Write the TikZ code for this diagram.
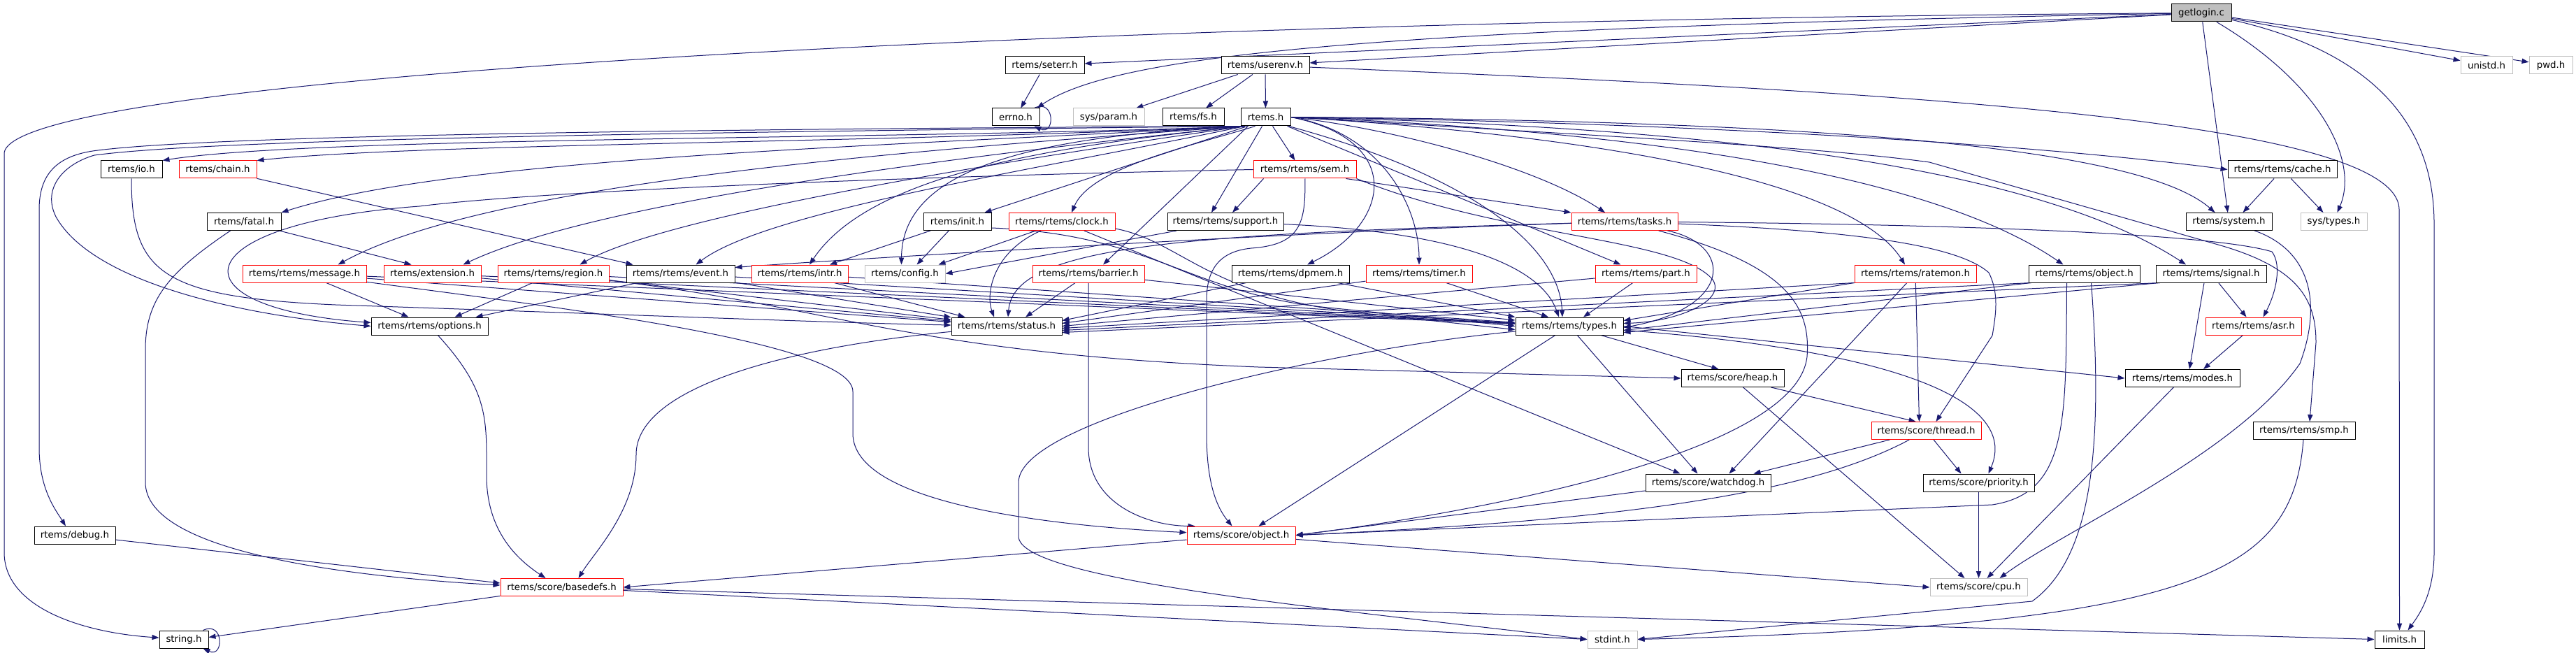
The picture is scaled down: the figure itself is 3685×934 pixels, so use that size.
\documentclass[tikz,border=0pt]{standalone}
\usepackage{fontspec}
\setmainfont{DejaVu Sans}
\usetikzlibrary{arrows.meta,calc,backgrounds}
\definecolor{edgec}{HTML}{191970}
\definecolor{grayc}{HTML}{BFBFBF}
\definecolor{redc}{HTML}{FF0000}
\begin{document}
\begin{tikzpicture}[x=0.75pt,y=-0.75pt,
  nd/.style={rectangle, fill=white, inner sep=0pt, minimum height=18.75pt, font=\fontsize{10}{12}\selectfont, line width=0.75pt},
  bk/.style={nd, draw=black},
  rd/.style={nd, draw=redc},
  gy/.style={nd, draw=grayc},
  e/.style={draw=edgec, line width=0.75pt, -{Triangle[length=7.5pt,width=5.4pt]}},
]
\useasboundingbox (0,0) rectangle (3685,934);
% row 0
\node[bk, fill=grayc, minimum width=86*0.75pt] (getlogin) at (3149,18.5) {getlogin.c};
% row 1
\node[bk, minimum width=113*0.75pt] (seterr) at (1494.5,93.5) {rtems/seterr.h};
\node[bk, minimum width=126*0.75pt] (userenv) at (1810,93.5) {rtems/userenv.h};
\node[gy, minimum width=74*0.75pt] (unistd) at (3557,93.5) {unistd.h};
\node[gy, minimum width=62*0.75pt] (pwd) at (3649,93.5) {pwd.h};
% row 2
\node[bk, minimum width=68*0.75pt] (errno) at (1453,167.5) {errno.h};
\node[gy, minimum width=102*0.75pt] (sysparam) at (1586,167.5) {sys/param.h};
\node[bk, minimum width=88*0.75pt] (fs) at (1707,167.5) {rtems/fs.h};
\node[bk, minimum width=71*0.75pt] (rtemsh) at (1810.5,167.5) {rtems.h};
% row 3
\node[bk, minimum width=88*0.75pt] (io) at (188,242.5) {rtems/io.h};
\node[rd, minimum width=111*0.75pt] (chain) at (311.5,242.5) {rtems/chain.h};
\node[rd, minimum width=147*0.75pt] (sem) at (1866.5,242.5) {rtems/rtems/sem.h};
\node[bk, minimum width=156*0.75pt] (cache) at (3265,242.5) {rtems/rtems/cache.h};
% row 4
\node[bk, minimum width=106*0.75pt] (fatal) at (349,317) {rtems/fatal.h};
\node[bk, minimum width=97*0.75pt] (init) at (1369.5,317) {rtems/init.h};
\node[rd, minimum width=152*0.75pt] (clock) at (1519,317) {rtems/rtems/clock.h};
\node[bk, minimum width=166*0.75pt] (support) at (1753,317) {rtems/rtems/support.h};
\node[rd, minimum width=152*0.75pt] (tasks) at (2324,317) {rtems/rtems/tasks.h};
\node[bk, minimum width=123*0.75pt] (system) at (3188.5,317) {rtems/system.h};
\node[gy, minimum width=95*0.75pt] (systypes) at (3338.5,317) {sys/types.h};
% row 5
\node[rd, minimum width=177*0.75pt] (message) at (435.5,391.5) {rtems/rtems/message.h};
\node[rd, minimum width=139*0.75pt] (extension) at (618.5,391.5) {rtems/extension.h};
\node[rd, minimum width=159*0.75pt] (region) at (791.5,391.5) {rtems/rtems/region.h};
\node[bk, minimum width=155*0.75pt] (event) at (973.5,391.5) {rtems/rtems/event.h};
\node[rd, minimum width=138*0.75pt] (intr) at (1144,391.5) {rtems/rtems/intr.h};
\node[gy, minimum width=115*0.75pt] (config) at (1294.5,391.5) {rtems/config.h};
\node[rd, minimum width=160*0.75pt] (barrier) at (1557,391.5) {rtems/rtems/barrier.h};
\node[bk, minimum width=168*0.75pt] (dpmem) at (1846,391.5) {rtems/rtems/dpmem.h};
\node[rd, minimum width=152*0.75pt] (timer) at (2030,391.5) {rtems/rtems/timer.h};
\node[rd, minimum width=145*0.75pt] (part) at (2354.5,391.5) {rtems/rtems/part.h};
\node[rd, minimum width=174*0.75pt] (ratemon) at (2740,391.5) {rtems/rtems/ratemon.h};
\node[bk, minimum width=159*0.75pt] (objecth) at (2981.5,391.5) {rtems/rtems/object.h};
\node[bk, minimum width=158*0.75pt] (signal) at (3163,391.5) {rtems/rtems/signal.h};
% row 6
\node[bk, minimum width=167*0.75pt] (options) at (614.5,466.5) {rtems/rtems/options.h};
\node[bk, minimum width=158*0.75pt] (status) at (1440,466.5) {rtems/rtems/status.h};
\node[bk, minimum width=154*0.75pt] (types) at (2245,466.5) {rtems/rtems/types.h};
\node[rd, minimum width=137*0.75pt] (asr) at (3223.5,466.5) {rtems/rtems/asr.h};
% row 7
\node[bk, minimum width=147*0.75pt] (heap) at (2478.5,541) {rtems/score/heap.h};
\node[bk, minimum width=164*0.75pt] (modes) at (3122,541) {rtems/rtems/modes.h};
% row 8
\node[rd, minimum width=157*0.75pt] (thread) at (2755.5,616) {rtems/score/thread.h};
\node[bk, minimum width=146*0.75pt] (smp) at (3296,616) {rtems/rtems/smp.h};
% row 9
\node[bk, minimum width=179*0.75pt] (watchdog) at (2443.5,690.5) {rtems/score/watchdog.h};
\node[bk, minimum width=159*0.75pt] (priority) at (2830.5,690.5) {rtems/score/priority.h};
% row 10
\node[bk, minimum width=116*0.75pt] (debug) at (107,765.5) {rtems/debug.h};
\node[rd, minimum width=155*0.75pt] (sobject) at (1775.5,765.5) {rtems/score/object.h};
% row 11
\node[rd, minimum width=175*0.75pt] (basedefs) at (803.5,840) {rtems/score/basedefs.h};
\node[gy, minimum width=139*0.75pt] (cpu) at (2830.5,840) {rtems/score/cpu.h};
% row 12
\node[bk, minimum width=70*0.75pt] (string) at (263,914.5) {string.h};
\node[gy, minimum width=71*0.75pt] (stdint) at (2306.5,914.5) {stdint.h};
\node[bk, minimum width=71*0.75pt] (limits) at (3432.5,914.5) {limits.h};

\begin{scope}[on background layer]
\fill[white] (0,0) rectangle (3685,934);
% getlogin.c
\draw[e] (getlogin) -- (seterr);
\draw[e] (getlogin) -- (userenv);
\draw[e] (getlogin) .. controls (2000,40) and (1600,75) .. ($(errno.north east)+(-4,0)$);
\draw[e] (getlogin) .. controls (1500,30) and (6,110) .. (6,220) -- (6,790) .. controls (6,870) and (120,905) .. (string);
\draw[e] (getlogin) -- (system);
\draw[e] (getlogin) .. controls (3320,120) and (3375,230) .. ($(systypes.north)+(5,0)$);
\draw[e] (getlogin) -- (unistd);
\draw[e] (getlogin) -- (pwd);
\draw[e] (getlogin) .. controls (3420,80) and (3482,200) .. (3482,320) -- (3482,790) .. controls (3482,850) and (3460,880) .. ($(limits.north)+(12,0)$);
% seterr, errno, userenv
\draw[e] (seterr) -- (errno);
\draw[e] ($(errno.north east)+(-8,0)$) .. controls +(30,-14) and +(30,14) .. ($(errno.south east)+(-8,0)$);
\draw[e] (userenv) -- (sysparam);
\draw[e] (userenv) -- (fs);
\draw[e] (userenv) -- (rtemsh);
\draw[e] (userenv) .. controls (2700,130) and (3432,170) .. (3432,300) -- (limits);
% rtems.h
\draw[e] ($(rtemsh.south west)+(6,0)$) .. controls (1300,200) and (450,195) .. (io.north east);
\draw[e] ($(rtemsh.south west)+(6,0)$) .. controls (1250,205) and (600,205) .. (chain.north east);
\draw[e] ($(rtemsh.south west)+(6,0)$) .. controls (1250,210) and (650,225) .. (fatal.north east);
\draw[e] ($(rtemsh.south west)+(6,0)$) .. controls (1300,215) and (700,260) .. ($(message.north)+(48,0)$);
\draw[e] ($(rtemsh.south west)+(6,0)$) .. controls (1350,225) and (850,290) .. ($(extension.north)+(44,0)$);
\draw[e] ($(rtemsh.south west)+(6,0)$) .. controls (1400,235) and (950,310) .. ($(region.north)+(38,0)$);
\draw[e] ($(rtemsh.south west)+(6,0)$) .. controls (1500,240) and (1100,300) .. ($(event.north)+(22,0)$);
\draw[e] ($(rtemsh.south west)+(6,0)$) .. controls (1550,205) and (1250,240) .. ($(intr.north)+(14,0)$);
\draw[e] ($(rtemsh.south west)+(6,0)$) .. controls (1450,195) and (1290,250) .. ($(config.north)+(-5,0)$);
\draw[e] ($(rtemsh.south west)+(10,0)$) -- ($(init.north east)+(-10,0)$);
\draw[e] ($(rtemsh.south)+(-15,0)$) .. controls (1700,210) and (1560,240) .. ($(clock.north)+(14,0)$);
\draw[e] ($(rtemsh.south)+(-5,0)$) -- ($(support.north)+(-20,0)$);
\draw[e] ($(rtemsh.south)+(10,0)$) -- ($(sem.north)+(-14,0)$);
\draw[e] ($(rtemsh.south)+(-25,0)$) -- ($(barrier.north)+(21,0)$);
\draw[e] (rtemsh.east) .. controls (2010,200) and (1990,320) .. ($(dpmem.north)+(24,0)$);
\draw[e] (rtemsh.east) .. controls (1980,190) and (2030,300) .. (timer.north);
\draw[e] (rtemsh.east) .. controls (2000,185) and (2200,240) .. ($(tasks.north)+(-28,0)$);
\draw[e] ($(rtemsh.south east)+(-5,0)$) -- ($(part.north)+(-36,0)$);
\draw[e] (rtemsh.east) .. controls (2300,195) and (2650,260) .. ($(ratemon.north)+(-15,0)$);
\draw[e] (rtemsh.east) .. controls (2300,185) and (2750,240) .. ($(objecth.north)+(-30,0)$);
\draw[e] (rtemsh.east) .. controls (2400,180) and (2900,230) .. ($(signal.north)+(-36,0)$);
\draw[e] (rtemsh.east) .. controls (2400,175) and (2900,205) .. (cache.west);
\draw[e] (rtemsh.east) .. controls (2500,172) and (3050,200) .. ($(system.north)+(-20,0)$);
\draw[e] ($(rtemsh.south east)+(-3,0)$) .. controls (2100,250) and (2230,350) .. ($(types.north)+(-10,0)$);
\draw[e] ($(rtemsh.south west)+(2,0)$) .. controls (900,185) and (300,195) .. (140,215) .. controls (80,222) and (56,250) .. (56,300) -- (56,640) .. controls (56,700) and (80,730) .. ($(debug.north)+(-13,0)$);
\draw[e] ($(rtemsh.south west)+(3,0)$) .. controls (900,190) and (300,200) .. (135,222) .. controls (90,235) and (60,270) .. (80,310) .. controls (130,400) and (330,450) .. (options.west);
\draw[e] (rtemsh.east) .. controls (2300,195) and (2600,210) .. (2760,232) -- (3180,352) .. controls (3290,385) and (3313,430) .. (3313,490) -- ($(smp.north)+(8,0)$);
% row 3 sources
\draw[e] (io) .. controls (188,390) and (230,425) .. (480,436) .. controls (900,450) and (1200,462) .. (status);
\draw[e] (chain) -- ($(event.north west)+(10,0)$);
\draw[e] (sem.west) .. controls (1400,250) and (800,270) .. (600,295) .. controls (260,320) and (240,440) .. ($(options.west)+(0,-5)$);
\draw[e] ($(sem.south west)+(15,0)$) -- ($(support.north)+(10,0)$);
\draw[e] ($(sem.south east)+(-15,0)$) -- (tasks.north west);
\draw[e] (sem) .. controls (1868,320) and (1860,350) .. (1790,355) .. controls (1740,360) and (1726,390) .. (1726,430) -- (1726,620) .. controls (1726,690) and (1740,725) .. ($(sobject.north)+(-13,0)$);
\draw[e] (sem.south east) .. controls (2150,340) and (2400,340) .. (2450,400) .. controls (2470,430) and (2400,460) .. ($(types.east)+(0,-4)$);
\draw[e] (cache) -- ($(system.north)+(20,0)$);
\draw[e] (cache) -- ($(systypes.north)+(-15,0)$);
% row 4 sources
\draw[e] (fatal) -- ($(extension.north)+(-30,0)$);
\draw[e] (fatal) .. controls (240,390) and (208,430) .. (208,500) -- (208,690) .. controls (208,790) and (500,825) .. ($(basedefs.west)+(0,-3)$);
\draw[e] (init) -- ($(intr.north)+(43,0)$);
\draw[e] (init) -- ($(config.north)+(17,0)$);
\draw[e] ($(init.south east)+(0,-4)$) .. controls (1650,335) and (1700,420) .. (1900,440) -- (types.west);
\draw[e] (clock) -- ($(config.north east)+(-10,0)$);
\draw[e] (clock) .. controls (1420,360) and (1410,420) .. ($(status.north)+(-18,0)$);
\draw[e] ($(clock.south east)+(0,-3)$) .. controls (1690,345) and (1730,425) .. (1950,448) -- ($(types.west)+(0,5)$);
\draw[e] (clock) -- ($(watchdog.north)+(-40,0)$);
\draw[e] (support) -- (config.east);
\draw[e] (support) .. controls (2050,330) and (2200,370) .. ($(types.north)+(-15,0)$);
\draw[e] (tasks) .. controls (1900,330) and (1250,368) .. ($(event.north east)+(0,4)$);
\draw[e] (tasks) .. controls (1700,335) and (1450,350) .. ($(status.north)+(2,0)$);
\draw[e] (tasks) .. controls (2480,350) and (2480,440) .. ($(types.east)+(0,2)$);
\draw[e] (tasks) .. controls (2700,320) and (3150,330) .. (3250,360) .. controls (3265,380) and (3255,420) .. ($(asr.north)+(14,0)$);
\draw[e] (tasks) .. controls (2650,330) and (2800,350) .. (2845,390) .. controls (2860,420) and (2855,450) .. (2850,480) -- ($(thread.north)+(14,0)$);
\draw[e] (tasks) .. controls (2560,380) and (2590,440) .. (2585,510) .. controls (2570,650) and (2100,735) .. (sobject.east);
\draw[e] (system) .. controls (3310,360) and (3320,440) .. (3290,520) .. controls (3200,650) and (2950,760) .. ($(cpu.north)+(30,0)$);
% row 5 sources
\draw[e] (message) -- ($(options.north)+(-30,0)$);
\draw[e] (message) -- (status);
\draw[e] (message) -- (types);
\draw[e] (message) .. controls (800,440) and (1220,490) .. (1220,560) -- (1220,620) .. controls (1220,720) and (1500,752) .. (sobject);
\draw[e] (extension) -- (status);
\draw[e] (extension) -- (types);
\draw[e] (region) -- ($(options.north)+(36,0)$);
\draw[e] (region) -- (status);
\draw[e] (region) -- (types);
\draw[e] (region) .. controls (1200,440) and (1300,505) .. (1800,525) -- (heap.west);
\draw[e] (event) -- ($(options.north east)+(-18,0)$);
\draw[e] (event) -- (status);
\draw[e] (event) -- (types);
\draw[e] (intr) -- ($(status.north west)+(20,0)$);
\draw[e] (intr) -- (types);
\draw[e] (barrier) -- ($(status.north)+(27,0)$);
\draw[e] (barrier) -- (types);
\draw[e] (barrier.south) -- (1557,640) .. controls (1557,720) and (1640,752) .. ($(sobject.north west)+(12,0)$);
\draw[e] (dpmem) -- ($(status.east)+(0,-8)$);
\draw[e] (dpmem) -- (types.north west);
\draw[e] (timer) -- ($(status.east)+(0,-4)$);
\draw[e] (timer) -- ($(types.north)+(-30,0)$);
\draw[e] (part) -- (status.east);
\draw[e] (part) -- ($(types.north)+(20,0)$);
\draw[e] (ratemon.south west) -- ($(status.east)+(0,3)$);
\draw[e] (ratemon.south west) -- ($(types.east)+(0,-8)$);
\draw[e] (ratemon) -- ($(watchdog.north)+(30,0)$);
\draw[e] (ratemon) -- ($(thread.north)+(-10,0)$);
\draw[e] ($(objecth.south west)+(4,0)$) -- ($(status.east)+(0,6)$);
\draw[e] ($(objecth.south west)+(4,0)$) -- ($(types.east)+(0,6)$);
\draw[e] ($(objecth.south)+(-25,0)$) .. controls (2955,600) and (2960,705) .. (2850,722) -- (sobject.east);
\draw[e] ($(objecth.south)+(10,0)$) .. controls (3010,650) and (2990,800) .. (2907,860) -- (stdint.east);
\draw[e] ($(signal.south west)+(6,0)$) -- ($(status.east)+(0,9)$);
\draw[e] ($(signal.south west)+(6,0)$) -- ($(types.east)+(0,9)$);
\draw[e] (signal) -- ($(asr.north)+(-10,0)$);
\draw[e] ($(signal.south)+(-10,0)$) -- ($(modes.north)+(10,0)$);
% row 6 sources
\draw[e] (options) .. controls (700,560) and (696,600) .. (696,680) .. controls (696,760) and (740,800) .. ($(basedefs.north)+(-23,0)$);
\draw[e] (status) .. controls (1100,500) and (910,560) .. (910,650) .. controls (910,730) and (850,790) .. ($(basedefs.north)+(24,0)$);
\draw[e] (types) -- ($(heap.north)+(-20,0)$);
\draw[e] (types) -- ($(watchdog.north)+(-15,0)$);
\draw[e] (types) -- ($(sobject.north)+(25,0)$);
\draw[e] (types.east) -- (modes.west);
\draw[e] (types) .. controls (2700,500) and (2890,570) .. ($(priority.north)+(14,0)$);
\draw[e] (types) .. controls (1900,500) and (1457,600) .. (1457,690) -- (1457,767) .. controls (1457,830) and (1900,870) .. (stdint.west);
\draw[e] (asr) -- ($(modes.north)+(30,0)$);
% lower rows
\draw[e] (heap) -- ($(thread.north)+(-15,0)$);
\draw[e] (heap) -- ($(cpu.north)+(-20,0)$);
\draw[e] (modes) -- ($(cpu.north)+(12,0)$);
\draw[e] (thread) -- ($(watchdog.north east)+(-25,0)$);
\draw[e] (thread) -- ($(priority.north)+(-25,0)$);
\draw[e] (thread) .. controls (2580,710) and (2300,745) .. (sobject.east);
\draw[e] (smp) .. controls (3280,820) and (3150,895) .. (stdint.east);
\draw[e] (watchdog) -- (sobject.east);
\draw[e] (priority) -- (cpu);
\draw[e] (debug) -- ($(basedefs.west)+(0,-6)$);
\draw[e] (sobject) -- (basedefs.east);
\draw[e] (sobject) -- (cpu.west);
\draw[e] (basedefs) -- ($(string.east)+(0,-3)$);
\draw[e] (basedefs) -- (stdint.west);
\draw[e] (basedefs) -- (limits.west);
\draw[e] ($(string.north east)+(-8,0)$) .. controls +(30,-14) and +(30,14) .. ($(string.south east)+(-8,0)$);
\end{scope}
\end{tikzpicture}
\end{document}
